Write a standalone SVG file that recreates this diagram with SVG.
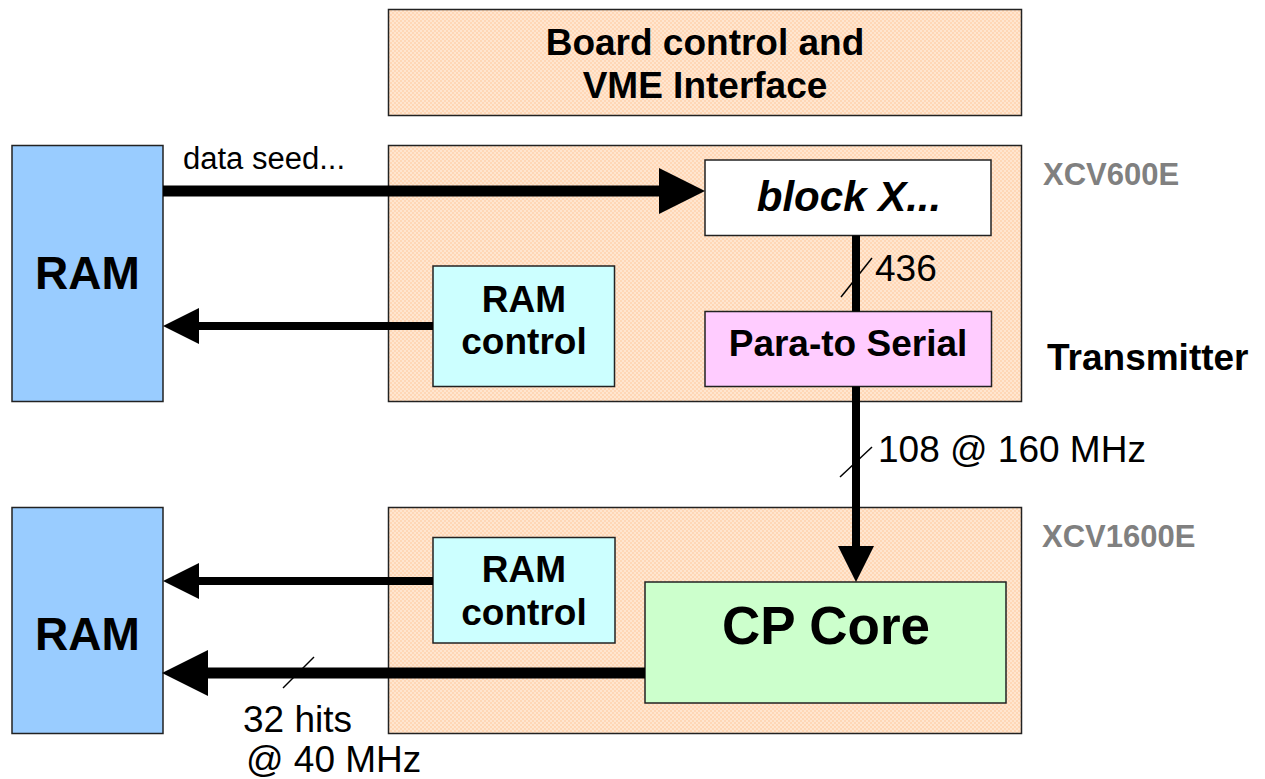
<svg xmlns="http://www.w3.org/2000/svg" width="1265" height="779" viewBox="0 0 1265 779">
  <defs>
    <!-- dithered peach fill used for the FPGA / board areas -->
    <pattern id="peach" width="4" height="4" patternUnits="userSpaceOnUse">
      <rect width="4" height="4" fill="#FFE6D0"/>
      <rect width="2" height="2" fill="#FFD7B6"/>
      <rect x="2" y="2" width="2" height="2" fill="#FFD7B6"/>
    </pattern>
    <marker id="headBig" markerUnits="userSpaceOnUse" markerWidth="46" markerHeight="46" viewBox="0 0 46 46" refX="0" refY="23" orient="auto" overflow="visible">
      <path d="M0,0 L46,23 L0,46 Z" fill="#000"/>
    </marker>
    <marker id="headSmall" markerUnits="userSpaceOnUse" markerWidth="36" markerHeight="36" viewBox="0 0 36 36" refX="0" refY="18" orient="auto" overflow="visible">
      <path d="M0,0 L36,18 L0,36 Z" fill="#000"/>
    </marker>
  </defs>
  <style>
    .box { stroke: #222; stroke-width: 1.5; }
    .area { fill: url(#peach); stroke: #222; stroke-width: 1.5; }
    .ram { fill: #99CCFF; }
    .ctrl { fill: #CCFFFF; }
    .pts { fill: #FFCCFF; }
    .core { fill: #CCFFCC; }
    .blk { fill: #FFFFFF; }
    text { font-family: "Liberation Sans", Arial, sans-serif; fill: #000; }
    .b { font-weight: bold; }
    .t37 { font-size: 37px; }
    .chip { font-size: 31px; font-weight: bold; fill: #808080; }
    .lbl { font-size: 37px; }
    .bus { stroke: #000; fill: none; }
    .w11 { stroke-width: 11; }
    .w8 { stroke-width: 8; }
    .tick { stroke: #000; stroke-width: 1.5; }
  </style>

  <!-- board control -->
  <g id="board-control">
    <rect class="area" x="388.5" y="9.5" width="633" height="106"/>
    <text class="b t37" x="705" y="55" text-anchor="middle">Board control and</text>
    <text class="b t37" x="705" y="98" text-anchor="middle">VME Interface</text>
  </g>

  <!-- transmitter FPGA area -->
  <g id="xcv600e">
    <rect class="area" x="388.5" y="145.5" width="633" height="256"/>
    <text class="chip" x="1043" y="185">XCV600E</text>
  </g>
  <g id="transmitter-label">
    <text class="b t37" x="1047" y="370">Transmitter</text>
  </g>

  <!-- receiver FPGA area -->
  <g id="xcv1600e">
    <rect class="area" x="388.5" y="507.5" width="633" height="226"/>
    <text class="chip" x="1042" y="547">XCV1600E</text>
  </g>

  <!-- memories -->
  <g id="ram-top">
    <rect class="box ram" x="12" y="145.5" width="151" height="256"/>
    <text class="b" font-size="46" x="87.5" y="289" text-anchor="middle">RAM</text>
  </g>
  <g id="ram-bottom">
    <rect class="box ram" x="12" y="507.5" width="151" height="226"/>
    <text class="b" font-size="46" x="87.5" y="650" text-anchor="middle">RAM</text>
  </g>

  <!-- transmitter blocks -->
  <g id="block-x">
    <rect class="box blk" x="705" y="160" width="286" height="75.5"/>
    <text class="b" font-style="italic" font-size="42" x="849" y="211" text-anchor="middle">block X...</text>
  </g>
  <g id="ram-control-top">
    <rect class="box ctrl" x="433" y="266" width="181.5" height="120.5"/>
    <text class="b t37" x="524" y="312" text-anchor="middle">RAM</text>
    <text class="b t37" x="524" y="354" text-anchor="middle">control</text>
  </g>
  <g id="para-to-serial">
    <rect class="box pts" x="705" y="311.5" width="286.5" height="75"/>
    <text class="b t37" x="848" y="356" text-anchor="middle">Para-to Serial</text>
  </g>

  <!-- receiver blocks -->
  <g id="ram-control-bottom">
    <rect class="box ctrl" x="433" y="537.5" width="182" height="105.5"/>
    <text class="b t37" x="524" y="582" text-anchor="middle">RAM</text>
    <text class="b t37" x="524" y="625" text-anchor="middle">control</text>
  </g>
  <g id="cp-core">
    <rect class="box core" x="645" y="582" width="361" height="121"/>
    <text class="b" font-size="53" x="826" y="644" text-anchor="middle">CP Core</text>
  </g>

  <!-- buses -->
  <g id="connectors">
    <line class="bus w11" x1="163" y1="191" x2="659" y2="191" marker-end="url(#headBig)"/>
    <line class="bus w8" x1="433" y1="326" x2="199" y2="326" marker-end="url(#headSmall)"/>
    <line class="bus w8" x1="856" y1="235.5" x2="856" y2="311.5"/>
    <line class="bus w8" x1="856" y1="386.5" x2="856" y2="546" marker-end="url(#headSmall)"/>
    <line class="bus w8" x1="433" y1="581" x2="199" y2="581" marker-end="url(#headSmall)"/>
    <line class="bus w11" x1="645" y1="673" x2="208" y2="673" marker-end="url(#headBig)"/>

    <!-- bus-width ticks -->
    <line class="tick" x1="841" y1="297" x2="872" y2="258"/>
    <line class="tick" x1="840" y1="477" x2="872" y2="447"/>
    <line class="tick" x1="283" y1="688" x2="314" y2="657"/>
  </g>

  <!-- bus labels -->
  <g id="labels">
    <text font-size="31" x="183" y="169">data seed...</text>
    <text class="lbl" x="875" y="281">436</text>
    <text class="lbl" x="878" y="462">108 @ 160 MHz</text>
    <text class="lbl" x="243" y="732">32 hits</text>
    <text class="lbl" x="246" y="772">@ 40 MHz</text>
  </g>
</svg>
